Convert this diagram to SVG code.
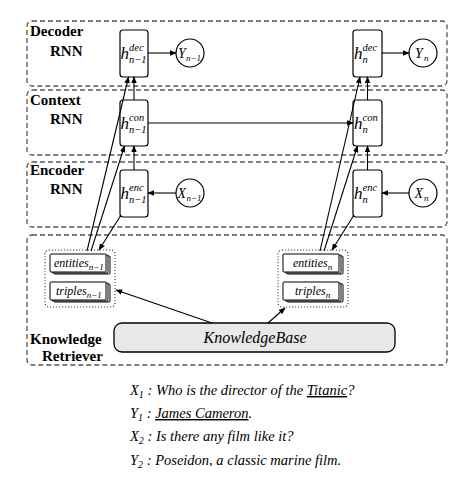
<svg xmlns="http://www.w3.org/2000/svg" width="470" height="482" viewBox="0 0 470 482">
<defs>
<marker id="ah" viewBox="0 0 10 10" refX="9" refY="5" markerWidth="7" markerHeight="7" markerUnits="userSpaceOnUse" orient="auto">
<path d="M0,1 L10,5 L0,9 z" fill="#000"/>
</marker>
</defs>
<style>
.panel{fill:none;stroke:#555;stroke-width:1.3;stroke-dasharray:5 3}
.lbl{font-weight:bold;font-size:15px;fill:#000}
.box{fill:#fff;stroke:#000;stroke-width:1.2}
.circ{fill:#fff;stroke:#000;stroke-width:1.2}
.mi{font-style:italic;fill:#000}
.h{font-size:17px}
.sc{font-size:10.5px}
.grp{fill:none;stroke:#444;stroke-width:1.2;stroke-dasharray:1.2 1.8}
.stk{fill:#fff;stroke:#000;stroke-width:1}
.kb{fill:#e8e8e8;stroke:#000;stroke-width:1.3}
.con line{stroke:#000;stroke-width:1.1;marker-end:url(#ah)}
.ex{font-style:italic;font-size:14.5px;fill:#000}
</style>
<g font-family="Liberation Serif, DejaVu Serif, serif">
<g id="panel-decoder">
<rect class="panel" x="27" y="21" width="420" height="65" rx="5"/>
<text class="lbl" x="30" y="36">Decoder</text>
<text class="lbl" x="50" y="56">RNN</text>
</g>
<g id="panel-context">
<rect class="panel" x="27" y="90" width="420" height="65" rx="5"/>
<text class="lbl" x="30" y="105">Context</text>
<text class="lbl" x="50" y="124">RNN</text>
</g>
<g id="panel-encoder">
<rect class="panel" x="27" y="162" width="420" height="65" rx="5"/>
<text class="lbl" x="30" y="175">Encoder</text>
<text class="lbl" x="50" y="194">RNN</text>
</g>
<g id="panel-knowledge">
<rect class="panel" x="27" y="235" width="420" height="130" rx="5"/>
<text class="lbl" x="30" y="344">Knowledge</text>
<text class="lbl" x="42" y="361">Retriever</text>
</g>

<g id="h-dec-n1">
<rect class="box" x="120" y="30" width="28" height="47" rx="3"/>
<text class="mi h" x="120.5" y="59">h</text>
<text class="mi sc" x="129" y="51">dec</text>
<text class="mi sc" x="129" y="63">n−1</text>
</g>
<g id="y-n1">
<circle class="circ" cx="190" cy="53" r="14"/>
<text class="mi" font-size="14" x="178" y="58">Y</text>
<text class="mi" font-size="9" x="186" y="61">n−1</text>
</g>
<g id="h-dec-n">
<rect class="box" x="353" y="30" width="29" height="47" rx="3"/>
<text class="mi h" x="354" y="59">h</text>
<text class="mi sc" x="362.5" y="51">dec</text>
<text class="mi sc" x="362.5" y="63">n</text>
</g>
<g id="y-n">
<circle class="circ" cx="423" cy="53" r="14"/>
<text class="mi" font-size="14" x="415" y="58">Y</text>
<text class="mi" font-size="9" x="424" y="61">n</text>
</g>

<g id="h-con-n1">
<rect class="box" x="120" y="100" width="28" height="46" rx="3"/>
<text class="mi h" x="120.5" y="129">h</text>
<text class="mi sc" x="129" y="121">con</text>
<text class="mi sc" x="129" y="133">n−1</text>
</g>
<g id="h-con-n">
<rect class="box" x="353" y="100" width="29" height="46" rx="3"/>
<text class="mi h" x="354" y="129">h</text>
<text class="mi sc" x="362.5" y="121">con</text>
<text class="mi sc" x="362.5" y="133">n</text>
</g>

<g id="h-enc-n1">
<rect class="box" x="120" y="170" width="28" height="47" rx="3"/>
<text class="mi h" x="120.5" y="199">h</text>
<text class="mi sc" x="129" y="191">enc</text>
<text class="mi sc" x="129" y="203">n−1</text>
</g>
<g id="x-n1">
<circle class="circ" cx="190" cy="193" r="14"/>
<text class="mi" font-size="14" x="177.5" y="198">X</text>
<text class="mi" font-size="9" x="186.5" y="201">n−1</text>
</g>
<g id="h-enc-n">
<rect class="box" x="353" y="170" width="29" height="47" rx="3"/>
<text class="mi h" x="354" y="199">h</text>
<text class="mi sc" x="362.5" y="191">enc</text>
<text class="mi sc" x="362.5" y="203">n</text>
</g>
<g id="x-n">
<circle class="circ" cx="423" cy="193" r="14"/>
<text class="mi" font-size="14" x="414.5" y="198">X</text>
<text class="mi" font-size="9" x="424" y="201">n</text>
</g>

<g id="retrieved-n1">
<rect class="grp" x="45" y="250" width="70" height="57" rx="4"/>
<rect class="stk" x="54" y="256" width="56" height="18" rx="1"/>
<rect class="stk" x="52" y="255" width="56" height="18" rx="1"/>
<rect class="stk" x="50" y="254" width="56" height="18" rx="1"/>
<text class="mi" font-size="12" x="54" y="267">entities<tspan font-size="9" dy="3">n−1</tspan></text>
<rect class="stk" x="54" y="284" width="56" height="18" rx="1"/>
<rect class="stk" x="52" y="283" width="56" height="18" rx="1"/>
<rect class="stk" x="50" y="282" width="56" height="18" rx="1"/>
<text class="mi" font-size="12" x="56" y="295">triples<tspan font-size="9" dy="3">n−1</tspan></text>
</g>
<g id="retrieved-n">
<rect class="grp" x="278" y="250" width="70" height="57" rx="4"/>
<rect class="stk" x="287" y="256" width="56" height="18" rx="1"/>
<rect class="stk" x="285" y="255" width="56" height="18" rx="1"/>
<rect class="stk" x="283" y="254" width="56" height="18" rx="1"/>
<text class="mi" font-size="12" x="293" y="267">entities<tspan font-size="9" dy="3">n</tspan></text>
<rect class="stk" x="287" y="284" width="56" height="18" rx="1"/>
<rect class="stk" x="285" y="283" width="56" height="18" rx="1"/>
<rect class="stk" x="283" y="282" width="56" height="18" rx="1"/>
<text class="mi" font-size="12" x="295" y="295">triples<tspan font-size="9" dy="3">n</tspan></text>
</g>

<g id="knowledge-base">
<rect class="kb" x="114" y="323" width="281" height="29" rx="8"/>
<text class="mi" font-size="16" x="255" y="343" text-anchor="middle">KnowledgeBase</text>
</g>

<g id="connectors" class="con">
<line x1="148" y1="53" x2="176" y2="53"/>
<line x1="382" y1="53" x2="409" y2="53"/>
<line x1="176" y1="193" x2="148" y2="193"/>
<line x1="409" y1="193" x2="382" y2="193"/>
<line x1="134" y1="170" x2="134" y2="146"/>
<line x1="134" y1="100" x2="134" y2="77"/>
<line x1="367.5" y1="170" x2="367.5" y2="146"/>
<line x1="367.5" y1="100" x2="367.5" y2="77"/>
<line x1="148" y1="123" x2="353" y2="123"/>
<line x1="87" y1="251" x2="128.5" y2="77"/>
<line x1="91" y1="251" x2="124.5" y2="146"/>
<line x1="121" y1="215" x2="99" y2="250"/>
<line x1="320" y1="251" x2="360" y2="77"/>
<line x1="324" y1="251" x2="357.5" y2="146"/>
<line x1="354" y1="215" x2="332" y2="250"/>
<line x1="212" y1="323" x2="116" y2="290"/>
<line x1="268" y1="323" x2="285" y2="308"/>
</g>

<g id="example">
<text class="ex" x="130" y="395">X<tspan font-size="10" dy="3">1</tspan><tspan dy="-3"> : Who is the director of the </tspan><tspan text-decoration="underline">Titanic</tspan>?</text>
<text class="ex" x="130" y="418">Y<tspan font-size="10" dy="3">1</tspan><tspan dy="-3"> : </tspan><tspan text-decoration="underline">James Cameron</tspan>.</text>
<text class="ex" x="130" y="441">X<tspan font-size="10" dy="3">2</tspan><tspan dy="-3"> : Is there any film like it?</tspan></text>
<text class="ex" x="130" y="465">Y<tspan font-size="10" dy="3">2</tspan><tspan dy="-3"> : Poseidon, a classic marine film.</tspan></text>
</g>
</g>
</svg>
